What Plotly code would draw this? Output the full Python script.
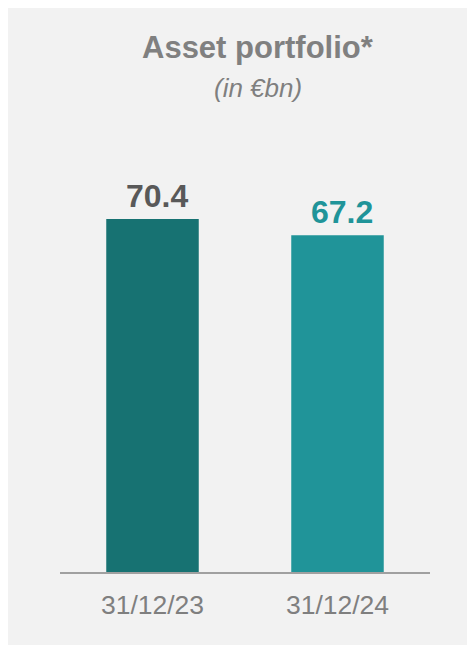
import plotly.graph_objects as go

categories = ["31/12/23", "31/12/24"]
values = [70.4, 67.2]
bar_colors = ["#177272", "#209499"]
label_colors = ["#595959", "#209499"]
value_labels = ["70.4", "67.2"]

OFF = 8  # page body margin
W, H = 475, 645
L, R, T, B = 52, 53, 163, 81
plot_h = H - T - B
plot_w = W - L - R


def px(x):
    return (x - OFF - L) / plot_w


def py(y):
    return ((H - B) - (y - OFF)) / plot_h


FONT = "Arial, Liberation Sans, sans-serif"

fig = go.Figure()
fig.add_trace(go.Bar(
    x=categories, y=values, width=0.5,
    marker=dict(color=bar_colors, line=dict(width=0)),
    hoverinfo="skip", showlegend=False,
))

for c, v, t, col in zip(categories, values, value_labels, label_colors):
    fig.add_annotation(x=c, y=v, text=f"<b>{t}</b>", showarrow=False,
                       xref="x", yref="y", yanchor="bottom", yshift=3, xshift=4,
                       font=dict(family=FONT, size=32, color=col))

fig.add_annotation(x=px(258.5), y=py(48), xref="paper", yref="paper",
                   text="<b>Asset portfolio*</b>", showarrow=False, yanchor="middle",
                   font=dict(family=FONT, size=31, color="#808080"))
fig.add_annotation(x=px(257.5), y=py(88), xref="paper", yref="paper",
                   text="<i>(in €bn)</i>", showarrow=False, yanchor="middle",
                   font=dict(family=FONT, size=26, color="#7f7f7f"))

fig.update_layout(
    width=W, height=H,
    margin=dict(l=L, r=R, t=T, b=B, pad=0),
    paper_bgcolor="#f2f2f2", plot_bgcolor="#f2f2f2",
    xaxis=dict(showline=True, linecolor="#a0a0a0", linewidth=2, showgrid=False,
               ticks="outside", ticklen=8, tickcolor="rgba(0,0,0,0)",
               tickfont=dict(family=FONT, size=26.5, color="#7f7f7f"),
               range=[-0.5, 1.5], fixedrange=True),
    yaxis=dict(visible=False, range=[0, 80], showgrid=False, zeroline=False),
)

fig.write_html("out.html",
               post_script="document.documentElement.style.overflow='hidden';document.body.style.overflow='hidden';")
